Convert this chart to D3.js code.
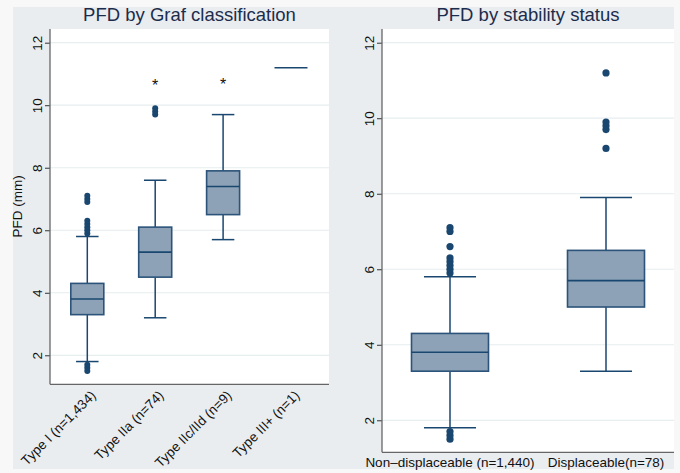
<!DOCTYPE html>
<html>
<head>
<meta charset="utf-8">
<script src="https://cdn.jsdelivr.net/npm/d3@7"></script>
<style>
  body { margin: 0; background: #f9f8f9; }
  svg { display: block; font-family: "Liberation Sans", Arial, sans-serif; }
</style>
</head>
<body>
<div id="chart"></div>
<script>
// ---- data ----
const grafCats = ["Type I (n=1,434)", "Type IIa (n=74)", "Type IIc/IId (n=9)", "Type III+ (n=1)"];
const grafQ1 = [3.3, 4.5, 6.5, 11.2];
const grafMedian = [3.8, 5.3, 7.4, 11.2];
const grafQ3 = [4.3, 6.1, 7.9, 11.2];
const grafLow = [1.8, 3.2, 5.7, 11.2];
const grafHigh = [5.8, 7.6, 9.7, 11.2];
const grafOutliers = [
  [1.5, 1.6, 1.7, 5.9, 6.0, 6.1, 6.2, 6.3, 6.9, 7.0, 7.1],
  [9.7, 9.8, 9.9],
  [],
  []
];
const grafStars = [null, 10.7, 10.75, null];

const stabCats = ["Non\u2013displaceable (n=1,440)", "Displaceable(n=78)"];
const stabQ1 = [3.3, 5.0];
const stabMedian = [3.8, 5.7];
const stabQ3 = [4.3, 6.5];
const stabLow = [1.8, 3.3];
const stabHigh = [5.8, 7.9];
const stabOutliers = [
  [1.5, 1.6, 1.7, 5.9, 6.0, 6.1, 6.2, 6.3, 6.6, 7.0, 7.1],
  [9.2, 9.7, 9.8, 9.9, 11.2]
];

const yTicks = [2, 4, 6, 8, 10, 12];

const navy = "#1a476f";
const boxFill = "#8da2b6";

const svg = d3.select("#chart").append("svg")
  .attr("width", 680)
  .attr("height", 473);

svg.append("rect")
  .attr("x", 13).attr("y", 7)
  .attr("width", 661).attr("height", 462)
  .attr("fill", "#e9edf0");

function panel(opts) {
  const g = svg.append("g");
  const { left, right, top, bottom } = opts;

  g.append("rect")
    .attr("x", left).attr("y", top)
    .attr("width", right - left).attr("height", bottom - top)
    .attr("fill", "white");

  const y = d3.scaleLinear().domain(opts.yDomain).range([bottom, top]);
  const x = d3.scalePoint().domain(opts.cats).range(opts.xRange);

  // grid
  g.selectAll(".grid").data(yTicks).join("line")
    .attr("x1", left).attr("x2", right)
    .attr("y1", d => y(d)).attr("y2", d => y(d))
    .attr("stroke", "#e6eef0").attr("stroke-width", 1.2);

  // y axis
  const yAxis = g.append("g")
    .attr("transform", `translate(${left},0)`)
    .call(d3.axisLeft(y).tickValues(yTicks).tickSize(5));
  yAxis.select(".domain").remove();
  yAxis.selectAll(".tick line").attr("stroke", "#333");
  yAxis.selectAll(".tick text")
    .attr("font-size", 13.5).attr("fill", "#111")
    .attr("text-anchor", "middle")
    .attr("x", 0).attr("y", 0).attr("dy", "0.35em")
    .attr("transform", "translate(-13,0) rotate(-90)");

  g.append("line")
    .attr("x1", left).attr("x2", left)
    .attr("y1", top).attr("y2", bottom)
    .attr("stroke", "#666").attr("stroke-width", 1.3);
  g.append("line")
    .attr("x1", left).attr("x2", right)
    .attr("y1", bottom).attr("y2", bottom)
    .attr("stroke", "#666").attr("stroke-width", 1.3);

  // title
  g.append("text")
    .attr("x", (left + right) / 2).attr("y", 21)
    .attr("text-anchor", "middle")
    .attr("font-size", 18.5)
    .attr("fill", "#1c2c4c")
    .text(opts.title);

  const bw = opts.boxWidth, cw = opts.capWidth;
  opts.cats.forEach((c, i) => {
    const cx = x(c);
    if (opts.q1[i] === opts.q3[i]) {
      g.append("line")
        .attr("x1", cx - bw / 2).attr("x2", cx + bw / 2)
        .attr("y1", y(opts.median[i])).attr("y2", y(opts.median[i]))
        .attr("stroke", navy).attr("stroke-width", 1.5);
      return;
    }
    // whiskers
    [[opts.q3[i], opts.high[i]], [opts.q1[i], opts.low[i]]].forEach(([a, b]) => {
      g.append("line")
        .attr("x1", cx).attr("x2", cx)
        .attr("y1", y(a)).attr("y2", y(b))
        .attr("stroke", navy).attr("stroke-width", 1.5);
      g.append("line")
        .attr("x1", cx - cw / 2).attr("x2", cx + cw / 2)
        .attr("y1", y(b)).attr("y2", y(b))
        .attr("stroke", navy).attr("stroke-width", 1.5);
    });
    g.append("rect")
      .attr("x", cx - bw / 2).attr("y", y(opts.q3[i]))
      .attr("width", bw).attr("height", y(opts.q1[i]) - y(opts.q3[i]))
      .attr("fill", boxFill)
      .attr("stroke", "#2c5379").attr("stroke-width", 1.6);
    g.append("line")
      .attr("x1", cx - bw / 2).attr("x2", cx + bw / 2)
      .attr("y1", y(opts.median[i])).attr("y2", y(opts.median[i]))
      .attr("stroke", navy).attr("stroke-width", 1.6);
    g.selectAll(null).data(opts.outliers[i]).join("circle")
      .attr("cx", cx).attr("cy", d => y(d))
      .attr("r", opts.dotR)
      .attr("fill", navy);
  });

  return { g, x, y };
}

// ---- left panel ----
const leftP = panel({
  left: 50, right: 329, top: 29, bottom: 384.3,
  yDomain: [1.072, 12.438],
  cats: grafCats, xRange: [87.3, 291],
  q1: grafQ1, median: grafMedian, q3: grafQ3, low: grafLow, high: grafHigh,
  outliers: grafOutliers,
  boxWidth: 33, capWidth: 22.5, dotR: 3,
  title: "PFD by Graf classification"
});

grafCats.forEach((c, i) => {
  if (grafStars[i] === null) return;
  leftP.g.append("text")
    .attr("x", leftP.x(c))
    .attr("y", leftP.y(grafStars[i]) + 8)
    .attr("text-anchor", "middle")
    .attr("font-size", 16).attr("fill", "#111")
    .text("*");
});

grafCats.forEach(c => {
  leftP.g.append("text")
    .attr("transform", `translate(${leftP.x(c) + 6},393) rotate(-45)`)
    .attr("text-anchor", "end")
    .attr("dy", "0.35em")
    .attr("font-size", 13.5).attr("fill", "#111")
    .text(c);
});

leftP.g.append("text")
  .attr("transform", "translate(22,206.5) rotate(-90)")
  .attr("text-anchor", "middle")
  .attr("font-size", 13.5).attr("fill", "#111")
  .text("PFD (mm)");

// ---- right panel ----
const rightP = panel({
  left: 382, right: 674, top: 29, bottom: 452.3,
  yDomain: [1.152, 12.363],
  cats: stabCats, xRange: [450, 606],
  q1: stabQ1, median: stabMedian, q3: stabQ3, low: stabLow, high: stabHigh,
  outliers: stabOutliers,
  boxWidth: 77, capWidth: 52, dotR: 3.6,
  title: "PFD by stability status"
});

stabCats.forEach(c => {
  rightP.g.append("text")
    .attr("x", rightP.x(c)).attr("y", 467)
    .attr("text-anchor", "middle")
    .attr("font-size", 13.5).attr("fill", "#111")
    .text(c);
});
</script>
</body>
</html>
